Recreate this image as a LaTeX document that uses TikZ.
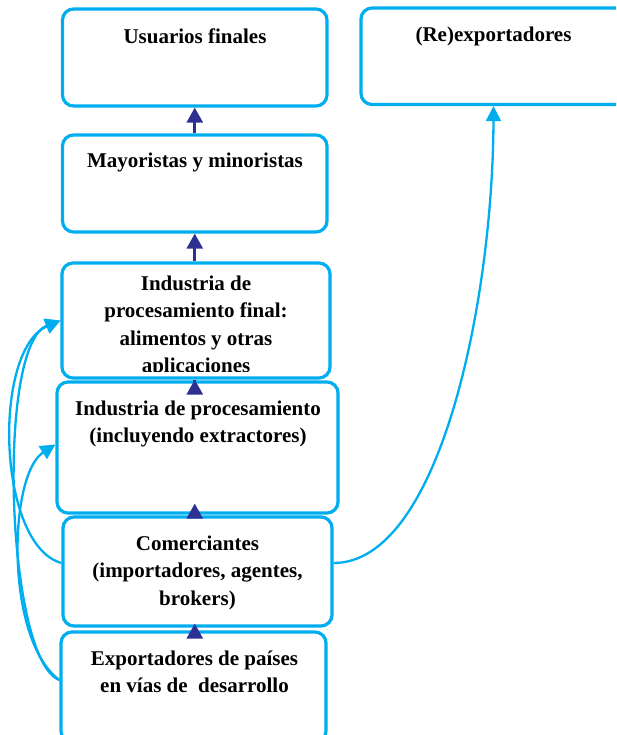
\documentclass[tikz,border=0pt]{standalone}
\usepackage{fontspec}
\setmainfont{Liberation Serif}
\usetikzlibrary{arrows.meta}
\definecolor{cy}{RGB}{0,174,239}
\definecolor{dk}{RGB}{46,49,146}
\newcommand\firstln{\rule{0pt}{15pt}}
\begin{document}
\begin{tikzpicture}[x=1pt,y=-1pt,
  box/.style={draw=cy, line width=3.2pt, rounded corners=11pt, fill=white, inner sep=0pt},
  lbl/.style={anchor=north, inner sep=0pt, align=center, font={\fontsize{21}{27.5}\selectfont\bfseries}},
  darr/.style={draw=dk, line width=2.6pt, -{Triangle[length=15pt,width=16pt]}},
  carr/.style={draw=cy, line width=2.3pt, -{Triangle[length=15pt,width=15pt]}}]
\useasboundingbox (0,0) rectangle (616,735);
\clip (0,0) rectangle (616,735);

% boxes
\node[box, minimum width=264.5pt, minimum height=97pt] (uf) at (194.75,57.5) {};
\node[box, minimum width=264.5pt, minimum height=97pt] (my) at (194.75,183.5) {};
\node[box, minimum width=268pt, minimum height=115pt] (ipf) at (196,320.5) {};
\node[box, minimum width=281pt, minimum height=131pt] (ip) at (197.5,447.5) {};
\node[box, minimum width=269pt, minimum height=109pt] (com) at (197.5,571.5) {};
\node[box, minimum width=265pt, minimum height=110pt] (exp) at (193.5,687) {};
\node[box, minimum width=265pt, minimum height=96.5pt] (rex) at (493.5,56.25) {};

% labels
\node[lbl] (tuf) at (195,28) {\firstln Usuarios finales};
\node[lbl] (tmy) at (195,152) {\firstln Mayoristas y minoristas};
\begin{scope}
\clip (60,260) rectangle (332,371);
\node[lbl] (tipf) at (196,275) {\firstln Industria de\\procesamiento final:\\alimentos y otras\\aplicaciones};
\end{scope}
\node[lbl] (tip) at (198,400) {\firstln Industria de procesamiento\\(incluyendo extractores)};
\node[lbl] (tcom) at (197.5,535) {\firstln Comerciantes\\(importadores, agentes,\\brokers)};
\node[lbl] (texp) at (194.5,650) {\firstln Exportadores de países\\en vías de\ \ desarrollo};
\node[lbl] (trex) at (493.5,26) {\firstln (Re)exportadores};

% vertical flow arrows
\draw[darr] (my.north) -- (uf.south);
\draw[darr] (ipf.north -| uf.south) -- (my.south);
\draw[darr] (ip.north -| uf.south) -- (ipf.south -| uf.south);
\draw[darr] (com.north -| uf.south) -- ([yshift=11pt]ip.south -| uf.south);
\draw[darr] (exp.north -| uf.south) -- ([yshift=4pt]com.south -| uf.south);

% curved arrows
\draw[carr] ([yshift=8.5pt]com.west) .. controls (-3,545) and (-8,350) .. (ipf.west);
\draw[carr] ([yshift=7pt]exp.west) .. controls (6,660) and (-4,345) .. (ipf.west);
\draw[carr] ([yshift=7pt]exp.west) .. controls (5,640) and (8,475) .. ([yshift=3pt]ip.west);
\draw[carr] ([yshift=8.5pt]com.east) .. controls (440,563) and (493,300) .. (rex.south);
\end{tikzpicture}
\end{document}
